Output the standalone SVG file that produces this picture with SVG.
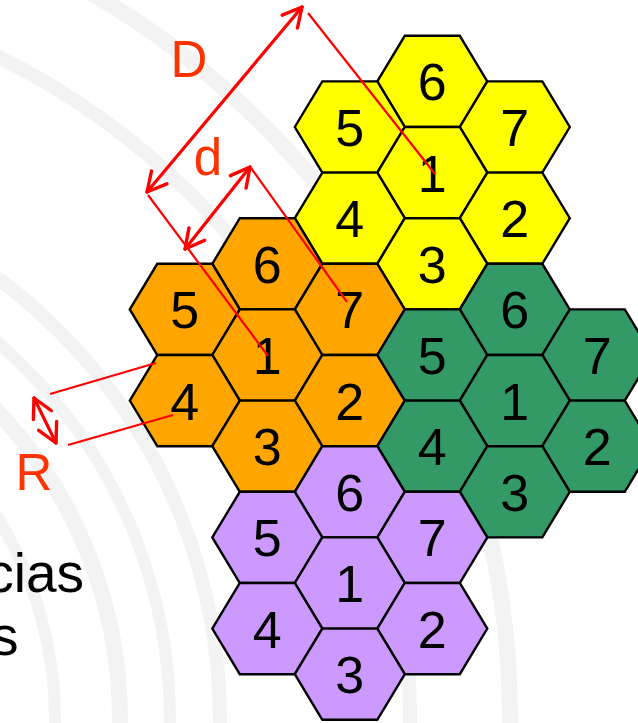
<svg xmlns="http://www.w3.org/2000/svg" xmlns:xlink="http://www.w3.org/1999/xlink" width="638" height="723" viewBox="0 0 638 723">
<style>
.bg{fill:none;stroke:#F3F3F3}
.hx{stroke:#000;stroke-width:2.4;stroke-linejoin:miter}
.ye{fill:#FFFF00}.or{fill:#FFA500}.gr{fill:#339966}.pu{fill:#CC99FF}
.n{font-family:"Liberation Sans",Arial,sans-serif;font-size:52px;fill:#000;text-anchor:middle}
.lb{font-family:"Liberation Sans",Arial,sans-serif;font-size:51px;fill:#FF3300;text-anchor:middle}
.tx{font-family:"Liberation Sans",Arial,sans-serif;font-size:55px;fill:#000;text-anchor:end}
.ar{stroke:#FF0000;stroke-width:3.2;fill:none;stroke-linecap:round}
.ex{stroke:#FF0000;stroke-width:2.2;fill:none}
</style>
<defs>
<path id="hex" d="M-55,0 L-27.5,-45.6 L27.5,-45.6 L55,0 L27.5,45.6 L-27.5,45.6 Z"/>
<marker id="ah" viewBox="-24 -13 26 26" refX="0" refY="0" markerWidth="26" markerHeight="26" markerUnits="userSpaceOnUse" orient="auto-start-reverse" overflow="visible">
<path d="M-19,-10 L0,0 L-19,10" fill="none" stroke="#FF0000" stroke-width="3.4" stroke-linecap="round" stroke-linejoin="round"/>
</marker>
</defs>
<rect width="638" height="723" fill="#FFFFFF"/>
<g id="background">
<circle class="bg" cx="-330" cy="720" r="385" stroke-width="12"/>
<circle class="bg" cx="-330" cy="720" r="450" stroke-width="16"/>
<circle class="bg" cx="-330" cy="720" r="500" stroke-width="12"/>
<circle class="bg" cx="-330" cy="720" r="550" stroke-width="14"/>
<circle class="bg" cx="-330" cy="720" r="740" stroke-width="14"/>
<circle class="bg" cx="-330" cy="720" r="840" stroke-width="16"/>
</g>
<g id="text-left">
<text class="tx" x="84" y="592">cias</text>
<text class="tx" x="18.5" y="655">s</text>
</g>
<g id="cluster-yellow">
<g id="yellow-6" transform="translate(432.3,81.4)"><use xlink:href="#hex" class="hx ye"/><text class="n" y="19">6</text></g>
<g id="yellow-5" transform="translate(349.8,127)"><use xlink:href="#hex" class="hx ye"/><text class="n" y="19">5</text></g>
<g id="yellow-7" transform="translate(514.8,127)"><use xlink:href="#hex" class="hx ye"/><text class="n" y="19">7</text></g>
<g id="yellow-1" transform="translate(432.3,172.6)"><use xlink:href="#hex" class="hx ye"/><text class="n" y="19">1</text></g>
<g id="yellow-4" transform="translate(349.8,218.2)"><use xlink:href="#hex" class="hx ye"/><text class="n" y="19">4</text></g>
<g id="yellow-2" transform="translate(514.8,218.2)"><use xlink:href="#hex" class="hx ye"/><text class="n" y="19">2</text></g>
<g id="yellow-3" transform="translate(432.3,263.8)"><use xlink:href="#hex" class="hx ye"/><text class="n" y="19">3</text></g>
</g>
<g id="cluster-orange">
<g id="orange-6" transform="translate(267.3,263.8)"><use xlink:href="#hex" class="hx or"/><text class="n" y="19">6</text></g>
<g id="orange-5" transform="translate(184.8,309.4)"><use xlink:href="#hex" class="hx or"/><text class="n" y="19">5</text></g>
<g id="orange-7" transform="translate(349.8,309.4)"><use xlink:href="#hex" class="hx or"/><text class="n" y="19">7</text></g>
<g id="orange-1" transform="translate(267.3,355)"><use xlink:href="#hex" class="hx or"/><text class="n" y="19">1</text></g>
<g id="orange-4" transform="translate(184.8,400.6)"><use xlink:href="#hex" class="hx or"/><text class="n" y="19">4</text></g>
<g id="orange-2" transform="translate(349.8,400.6)"><use xlink:href="#hex" class="hx or"/><text class="n" y="19">2</text></g>
<g id="orange-3" transform="translate(267.3,446.2)"><use xlink:href="#hex" class="hx or"/><text class="n" y="19">3</text></g>
</g>
<g id="cluster-green">
<g id="green-6" transform="translate(514.8,309.4)"><use xlink:href="#hex" class="hx gr"/><text class="n" y="19">6</text></g>
<g id="green-5" transform="translate(432.3,355)"><use xlink:href="#hex" class="hx gr"/><text class="n" y="19">5</text></g>
<g id="green-7" transform="translate(597.3,355)"><use xlink:href="#hex" class="hx gr"/><text class="n" y="19">7</text></g>
<g id="green-1" transform="translate(514.8,400.6)"><use xlink:href="#hex" class="hx gr"/><text class="n" y="19">1</text></g>
<g id="green-4" transform="translate(432.3,446.2)"><use xlink:href="#hex" class="hx gr"/><text class="n" y="19">4</text></g>
<g id="green-2" transform="translate(597.3,446.2)"><use xlink:href="#hex" class="hx gr"/><text class="n" y="19">2</text></g>
<g id="green-3" transform="translate(514.8,491.8)"><use xlink:href="#hex" class="hx gr"/><text class="n" y="19">3</text></g>
</g>
<g id="cluster-purple">
<g id="purple-6" transform="translate(349.8,491.8)"><use xlink:href="#hex" class="hx pu"/><text class="n" y="19">6</text></g>
<g id="purple-5" transform="translate(267.3,537.4)"><use xlink:href="#hex" class="hx pu"/><text class="n" y="19">5</text></g>
<g id="purple-7" transform="translate(432.3,537.4)"><use xlink:href="#hex" class="hx pu"/><text class="n" y="19">7</text></g>
<g id="purple-1" transform="translate(349.8,583)"><use xlink:href="#hex" class="hx pu"/><text class="n" y="19">1</text></g>
<g id="purple-4" transform="translate(267.3,628.6)"><use xlink:href="#hex" class="hx pu"/><text class="n" y="19">4</text></g>
<g id="purple-2" transform="translate(432.3,628.6)"><use xlink:href="#hex" class="hx pu"/><text class="n" y="19">2</text></g>
<g id="purple-3" transform="translate(349.8,674.2)"><use xlink:href="#hex" class="hx pu"/><text class="n" y="19">3</text></g>
</g>
<g id="connectors">
<line class="ex" x1="308" y1="13" x2="435" y2="174"/>
<line class="ex" x1="148" y1="195" x2="268" y2="356"/>
<line class="ex" x1="251" y1="168" x2="347" y2="302"/>
<line class="ex" x1="50" y1="394" x2="156" y2="363"/>
<line class="ex" x1="68" y1="445" x2="173" y2="415"/>
<line class="ar" x1="147" y1="192" x2="302" y2="7" marker-start="url(#ah)" marker-end="url(#ah)"/>
<line class="ar" x1="185" y1="249" x2="250" y2="167" marker-start="url(#ah)" marker-end="url(#ah)"/>
<line class="ar" x1="34" y1="398" x2="56" y2="443" stroke-width="3.6" marker-start="url(#ah)" marker-end="url(#ah)"/>
</g>
<g id="labels">
<text class="lb" x="189" y="77">D</text>
<text class="lb" x="208" y="175">d</text>
<text class="lb" x="34" y="490">R</text>
</g>
</svg>
